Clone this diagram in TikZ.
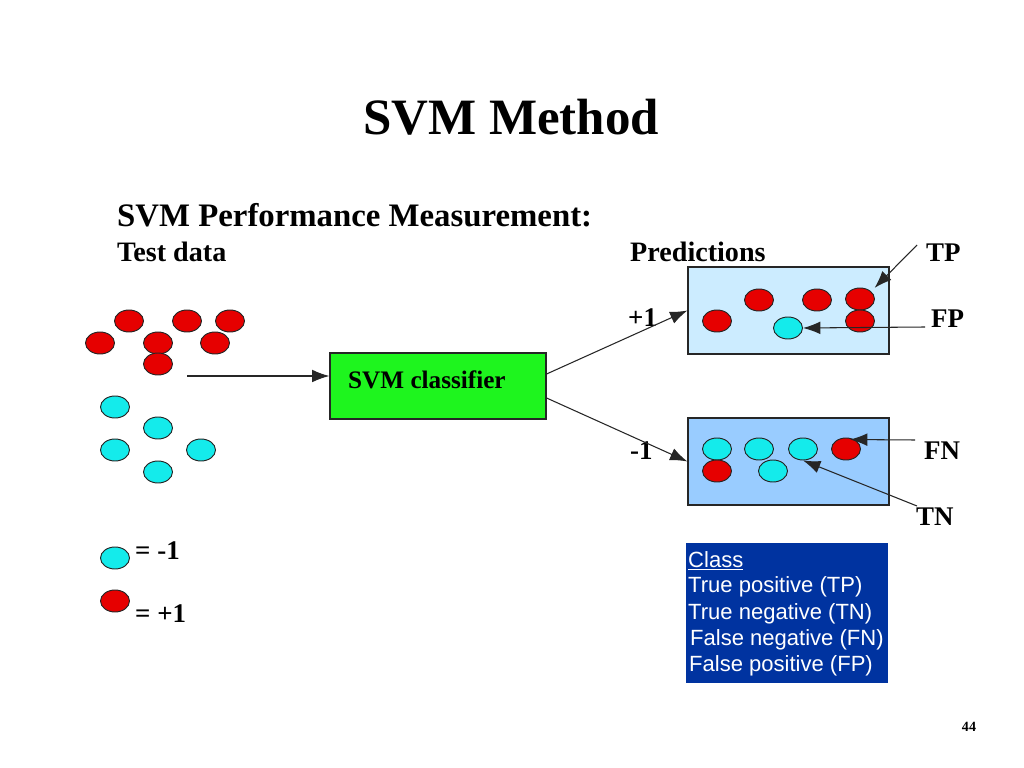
\documentclass[tikz,border=0pt]{standalone}
\usepackage{fontspec}
\setmainfont{Liberation Serif}
\newfontfamily\arialfont{Liberation Sans}
\usetikzlibrary{shapes.geometric,arrows.meta,calc}
\definecolor{dotred}{RGB}{230,0,0}
\definecolor{dotcyan}{RGB}{20,235,235}
\definecolor{boxgreen}{RGB}{30,245,30}
\definecolor{predtop}{RGB}{204,236,255}
\definecolor{predbot}{RGB}{153,204,255}
\definecolor{legblue}{RGB}{0,51,160}
\begin{document}
\begin{tikzpicture}[x=0.03cm,y=-0.03cm,
  dotbase/.style={ellipse, draw=black!85, line width=0.8pt, minimum width=0.87cm, minimum height=0.66cm, inner sep=0},
  reddot/.style={dotbase, fill=dotred},
  cyandot/.style={dotbase, fill=dotcyan},
  txt/.style={inner sep=0, anchor=base west},
  lbl/.style={txt, font=\bfseries\fontsize{23}{27}\selectfont},
  boxstyle/.style={draw=black!85, line width=1pt, inner sep=0},
  arr/.style={-{Latex[length=5.2mm,width=3.8mm]}, line width=0.9pt, black!85},
  legtxt/.style={txt, text=white, font=\arialfont\fontsize{18.8}{22}\selectfont},
]
\path[use as bounding box, fill=white] (0,0) rectangle (1024,768);

% titles
\node[inner sep=0, anchor=base, font=\bfseries\fontsize{43.5}{50}\selectfont] (title) at (511,135) {SVM Method};
\node[txt, font=\bfseries\fontsize{28}{32}\selectfont] (header) at (117,227) {SVM Performance Measurement:};
\node[txt, font=\bfseries\fontsize{24}{28}\selectfont] (testdata) at (117,262) {Test data};
\node[txt, font=\bfseries\fontsize{24}{28}\selectfont] (predictions) at (630,262) {Predictions};

% test data dots
\node[reddot] (r1) at (129,321) {};
\node[reddot] (r2) at (187,321) {};
\node[reddot] (r3) at (230,321) {};
\node[reddot] (r4) at (100,343) {};
\node[reddot] (r5) at (158,343) {};
\node[reddot] (r6) at (215,343) {};
\node[reddot] (r7) at (158,364) {};
\node[cyandot] (c1) at (115,407) {};
\node[cyandot] (c2) at (158,428) {};
\node[cyandot] (c3) at (115,450) {};
\node[cyandot] (c4) at (201,450) {};
\node[cyandot] (c5) at (158,472) {};

% classifier
\node[boxstyle, fill=boxgreen, minimum width=6.48cm, minimum height=1.98cm] (svm) at (438,386) {};
\node[txt, font=\bfseries\fontsize{21.5}{25}\selectfont] (svmtext) at (348,389) {SVM classifier};

\coordinate (dataout) at (187,376);
\draw[arr] (dataout) -- (dataout -| svm.west);

% prediction boxes
\node[boxstyle, fill=predtop, minimum width=6.03cm, minimum height=2.61cm] (top) at (788.5,310.5) {};
\node[boxstyle, fill=predbot, minimum width=6.03cm, minimum height=2.61cm] (bot) at (788.5,461.5) {};

\node[lbl] (plus) at (628,327) {+1};
\node[lbl] (minus) at (630,460) {-1};
\draw[arr] ($(svm.east)+(0,-12)$) -- (top.west);
\draw[arr] ($(svm.east)+(0,12)$) -- (bot.west);

% top box dots
\node[reddot] (t1) at (717,321) {};
\node[reddot] (t2) at (759,300) {};
\node[reddot] (t3) at (817,300) {};
\node[reddot] (t4) at (860,299) {};
\node[reddot] (t5) at (860,321) {};
\node[cyandot] (t6) at (788,328) {};

% bottom box dots
\node[cyandot] (b1) at (717,449) {};
\node[cyandot] (b2) at (759,449) {};
\node[cyandot] (b3) at (803,449) {};
\node[reddot] (b4) at (846,449) {};
\node[reddot] (b5) at (717,471) {};
\node[cyandot] (b6) at (773,471) {};

% TP FP FN TN labels
\node[lbl] (tpl) at (926,262) {TP};
\node[lbl] (fpl) at (931,328) {FP};
\node[lbl] (fnl) at (924,460) {FN};
\node[lbl] (tnl) at (916,526) {TN};
\coordinate (tpfrom) at (917,245);
\coordinate (fpfrom) at (925,327);
\coordinate (fnfrom) at (915,440);
\coordinate (tnfrom) at (917,506);
\draw[arr] (tpfrom) -- ($(t4.north east)+(4,-3)$);
\draw[arr] (fpfrom) -- (t6.east);
\draw[arr] (fnfrom) -- ($(b4.north)+(4,2)$);
\draw[arr] (tnfrom) -- (b3.south);

% legend left
\node[cyandot] (lneg) at (115,558) {};
\node[reddot] (lpos) at (115,601) {};
\node[lbl] (lnegt) at (135,559) {= -1};
\node[lbl] (lpost) at (135,622) {= +1};

% class table
\node[inner sep=0, fill=legblue, minimum width=6.06cm, minimum height=4.2cm] (legend) at (787,613) {};
\node[legtxt] (lc) at (688,567) {\underline{Class}};
\node[legtxt] (l1) at (688,593) {True positive (TP)};
\node[legtxt] (l2) at (688,619) {True negative (TN)};
\node[legtxt] (l3) at (690,645) {False negative (FN)};
\node[legtxt] (l4) at (689,671) {False positive (FP)};

% page number
\node[inner sep=0, anchor=base, font=\bfseries\fontsize{12}{14}\selectfont] (pnum) at (969,731) {44};
\end{tikzpicture}
\end{document}
